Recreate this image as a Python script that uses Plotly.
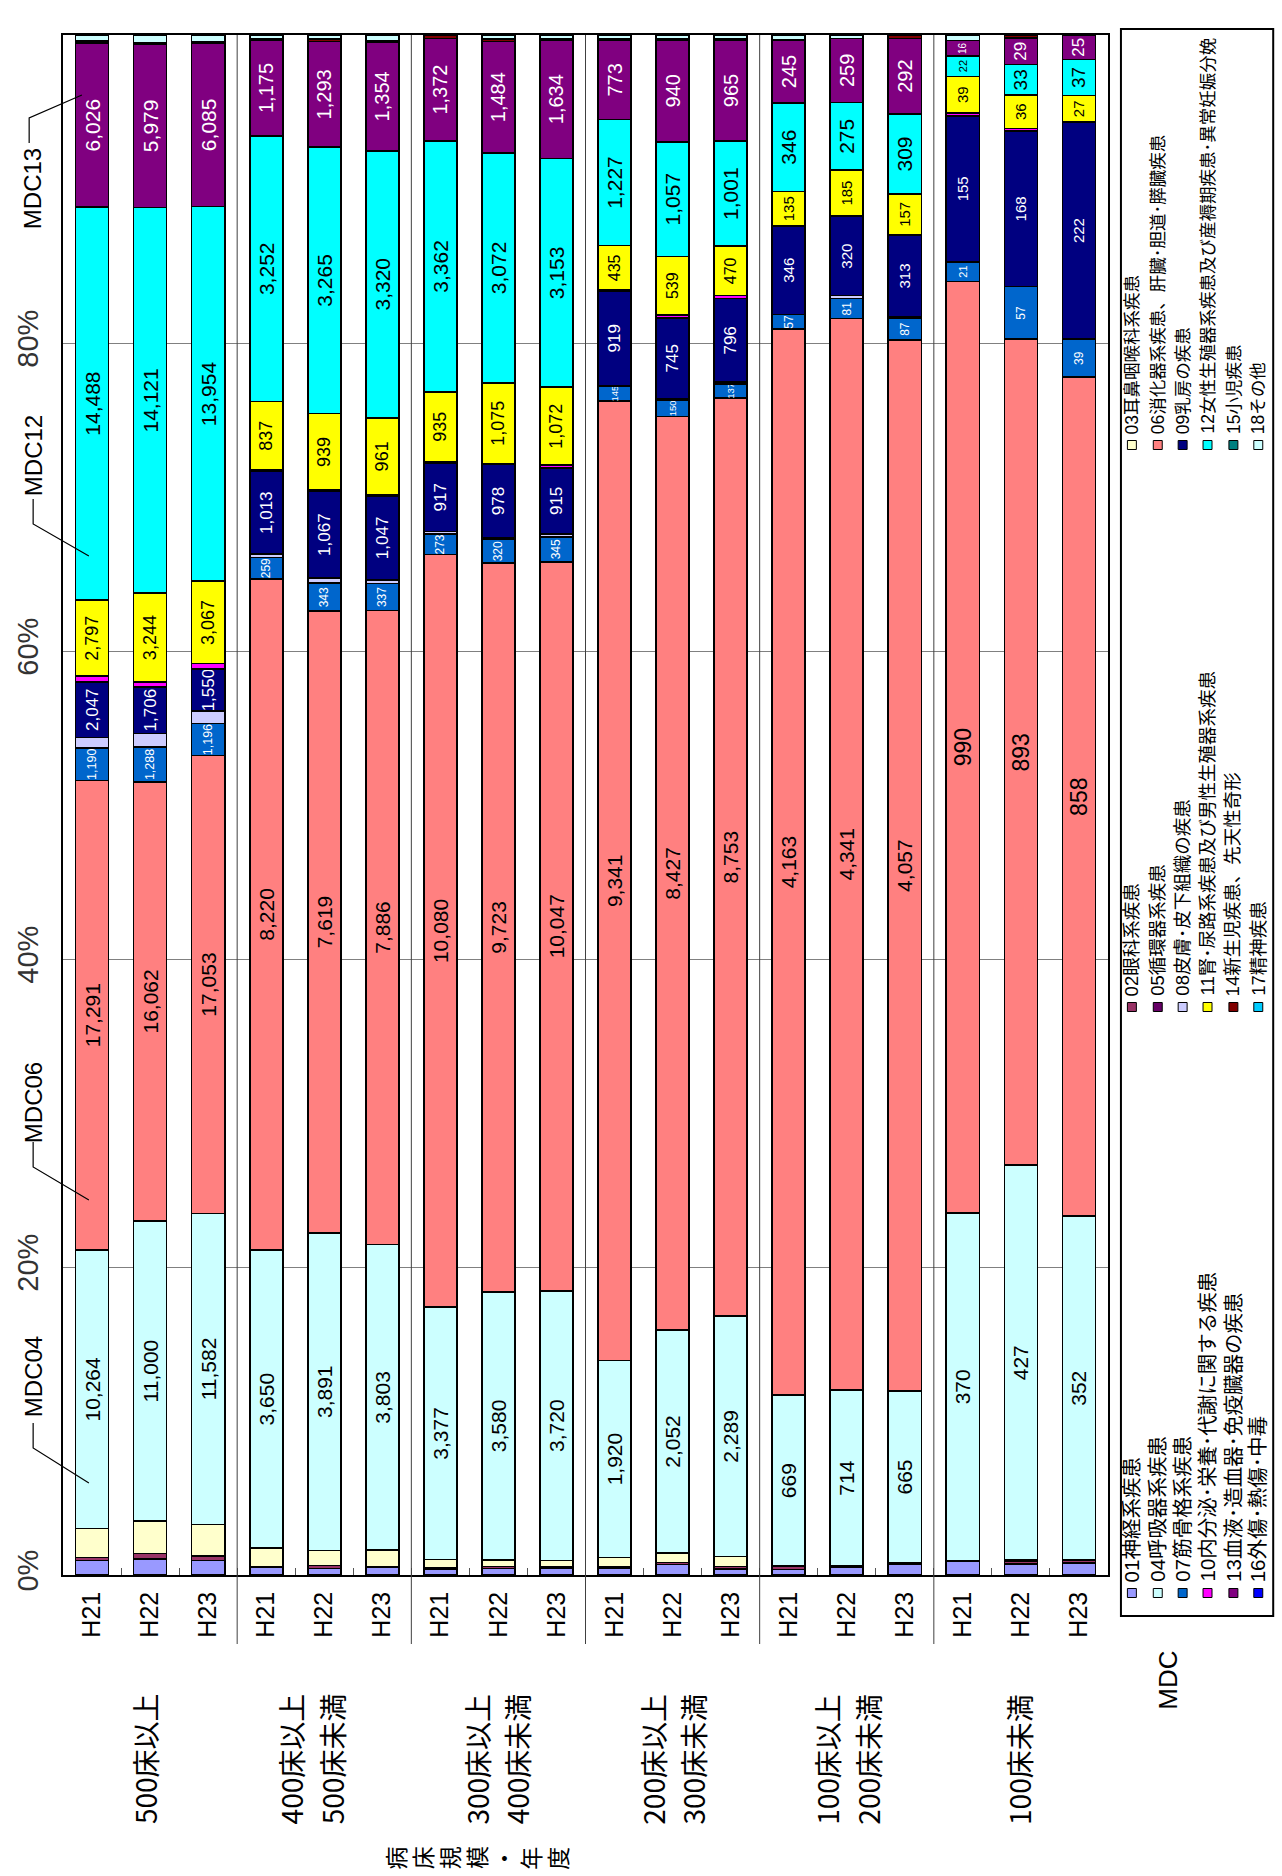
import plotly.graph_objects as go

# ---- data -----------------------------------------------------------------
years = ["H21", "H22", "H23"]
bed_groups = [
    ["500床以上"],
    ["400床以上", "500床未満"],
    ["300床以上", "400床未満"],
    ["200床以上", "300床未満"],
    ["100床以上", "200床未満"],
    ["100床未満"],
]

mdc_codes = ["01", "02", "03", "04", "05", "06", "07", "08", "09",
             "10", "11", "12", "13", "14", "15", "16", "17", "18"]
mdc_names = [
    "01神経系疾患", "02眼科系疾患", "03耳鼻咽喉科系疾患",
    "04呼吸器系疾患", "05循環器系疾患", "06消化器系疾患、肝臓･胆道･膵臓疾患",
    "07筋骨格系疾患", "08皮膚･皮下組織の疾患", "09乳房の疾患",
    "10内分泌･栄養･代謝に関する疾患", "11腎･尿路系疾患及び男性生殖器系疾患",
    "12女性生殖器系疾患及び産褥期疾患･異常妊娠分娩",
    "13血液･造血器･免疫臓器の疾患", "14新生児疾患、先天性奇形", "15小児疾患",
    "16外傷･熱傷･中毒", "17精神疾患", "18その他",
]
mdc_colors = [
    "#9999FF", "#993366", "#FFFFCC", "#CCFFFF", "#660066", "#FF8080",
    "#0066CC", "#CCCCFF", "#000080", "#FF00FF", "#FFFF00", "#00FFFF",
    "#800080", "#800000", "#008080", "#0000FF", "#00CCFF", "#CCFFFF",
]

# counts per MDC, one value per bar (6 bed-size groups x 3 years)
mdc01 = [538, 585, 545, 91, 78, 92, 76, 88, 92, 62, 98, 60, 22, 30, 41, 15, 12, 12]
mdc02 = [108, 197, 172, 11, 38, 15, 20, 27, 19, 13, 18, 22, 12, 6, 5, 0, 3, 3]
mdc03 = [1064, 1182, 1165, 225, 184, 200, 111, 84, 87, 94, 89, 95, 0, 0, 0, 0, 1, 0]
mdc04 = [10264, 11000, 11582, 3650, 3891, 3803, 3377, 3580, 3720,
         1920, 2052, 2289, 669, 714, 665, 370, 427, 352]
mdc05 = [0] * 18
mdc06 = [17291, 16062, 17053, 8220, 7619, 7886, 10080, 9723, 10047,
         9341, 8427, 8753, 4163, 4341, 4057, 990, 893, 858]
mdc07 = [1190, 1288, 1196, 259, 343, 337, 273, 320, 345, 145, 150, 137, 57, 81, 87, 21, 57, 39]
mdc08 = [390, 490, 470, 42, 61, 42, 35, 20, 36, 8, 14, 15, 0, 12, 5, 0, 0, 0]
mdc09 = [2047, 1706, 1550, 1013, 1067, 1047, 917, 978, 915, 919, 745, 796, 346, 320, 313, 155, 168, 222]
mdc10 = [210, 180, 212, 17, 10, 10, 18, 10, 36, 8, 28, 30, 0, 3, 3, 3, 3, 0]
mdc11 = [2797, 3244, 3067, 837, 939, 961, 935, 1075, 1072, 435, 539, 470, 135, 185, 157, 39, 36, 27]
mdc12 = [14488, 14121, 13954, 3252, 3265, 3320, 3362, 3072, 3153,
         1227, 1057, 1001, 346, 275, 309, 22, 33, 37]
mdc13 = [6026, 5979, 6085, 1175, 1293, 1354, 1372, 1484, 1634, 773, 940, 965, 245, 259, 292, 16, 29, 25]
mdc14 = [96, 56, 57, 19, 28, 15, 45, 35, 21, 8, 14, 12, 0, 0, 13, 0, 3, 0]
mdc15 = [0] * 18
mdc16 = [0] * 18
mdc17 = [0] * 18
mdc18 = [210, 280, 247, 42, 53, 71, 0, 53, 47, 42, 31, 35, 20, 14, 0, 6, 0, 0]

series = [mdc01, mdc02, mdc03, mdc04, mdc05, mdc06, mdc07, mdc08, mdc09,
          mdc10, mdc11, mdc12, mdc13, mdc14, mdc15, mdc16, mdc17, mdc18]

# ---- label styling for the series that carry value labels ----------------
label_color = {"04": "black", "06": "black", "07": "white", "09": "white",
               "11": "black", "12": "black", "13": "white"}
label_size = {
    "04": [21] * 18,
    "06": [21] * 15 + [23] * 3,
    "07": [12.5] * 3 + [12] * 6 + [9.5] * 3 + [12] * 3 + [11, 12, 12],
    "09": [17] * 12 + [15] * 6,
    "11": [18] * 9 + [16] * 3 + [15] * 6,
    "12": [21] * 15 + [11, 19, 19],
    "13": [21] * 3 + [20] * 12 + [10, 17, 17],
}

# ---- layout helpers ------------------------------------------------------
W, H = 1282, 1876
PL, PR, PT, PB = 58, 1108, 35, 1575          # plot area in pixels
NUM = "Liberation Sans Narrow, Liberation Sans, Noto Sans CJK JP"
JP = "Noto Sans CJK JP"


def fx(x):
    return (x - PL) / (PR - PL)


def fy(y):
    return (PB - y) / (PB - PT)


cats = [f"{''.join(g)} {y}" for g in bed_groups for y in years]
year_text = [y for _ in bed_groups for y in years]
cw = (PR - PL) / len(cats)

fig = go.Figure()
for code, name, color, vals in zip(mdc_codes, mdc_names, mdc_colors, series):
    kw = {}
    if code in label_color:
        kw = dict(
            text=[f"{v:,}" for v in vals],
            texttemplate="%{text}",
            textposition="inside",
            insidetextanchor="middle",
            textangle=-90,
            constraintext="none",
            insidetextfont=dict(family=NUM, size=label_size[code],
                                color=label_color[code]),
        )
    fig.add_trace(go.Bar(
        x=cats, y=vals, name=name,
        marker=dict(color=color, line=dict(color="black", width=1.7)),
        hoverinfo="skip", showlegend=False, **kw,
    ))

fig.update_layout(
    width=W, height=H, autosize=False,
    margin=dict(l=PL, r=W - PR, t=PT, b=H - PB, pad=0),
    barmode="stack", barnorm="percent", bargap=0.43,
    plot_bgcolor="white", paper_bgcolor="white",
    font=dict(family=NUM, color="black"),
)
fig.update_xaxes(
    type="category", categoryorder="array", categoryarray=cats,
    tickmode="array", tickvals=cats, ticktext=year_text,
    tickangle=-90, tickfont=dict(family=NUM, size=25, color="black"),
    ticklabelstandoff=5,
    tickson="boundaries", ticks="inside", ticklen=7, tickcolor="#555555",
    showgrid=False, showline=True, linecolor="black", linewidth=1.5, mirror=True,
)
fig.update_yaxes(
    range=[0, 100], tickmode="array", tickvals=[0, 20, 40, 60, 80, 100],
    ticktext=["0%", "20%", "40%", "60%", "80%", "100%"],
    tickangle=-90, tickfont=dict(family=NUM, size=29, color="#333333"),
    ticklabelstandoff=12,
    showgrid=True, gridcolor="#808080", gridwidth=1, zeroline=False,
    showline=True, linecolor="black", linewidth=1.5, mirror=True, ticks="",
)

shapes = []
annotations = []

# separators between bed-size groups, running down through the year labels
for k in range(1, len(bed_groups)):
    shapes.append(dict(type="line", xref="x", yref="paper",
                       x0=3 * k - 0.5, x1=3 * k - 0.5, y0=fy(1644), y1=1,
                       line=dict(color="#404040", width=1)))

# bed-size group labels (offsets of each text line from the group centre)
line_offsets = [[-5], [-33, 8], [-22, 19], [-20, 21], [-20, 21], [-2]]
for i, g in enumerate(bed_groups):
    cx = PL + (3 * i + 1.5) * cw
    for line_text, off in zip(g, line_offsets[i]):
        annotations.append(dict(
            x=fx(cx + off), y=fy(1759), xref="paper", yref="paper",
            text=line_text, textangle=-90, showarrow=False,
            xanchor="center", yanchor="middle",
            font=dict(family=JP, size=28, color="black"),
        ))

# axis title, one character per glyph
for j, ch in enumerate("病床規模・年度"):
    annotations.append(dict(
        x=fx(392 + j * 27), y=fy(1858), xref="paper", yref="paper",
        text=ch, textangle=-90, showarrow=False,
        xanchor="center", yanchor="middle",
        font=dict(family=JP, size=23, color="black"),
    ))

# MDC call-outs with leader lines into the first bar
callouts = [
    ("MDC04", 1377, [(28, 1423), (28, 1448), (84, 1483)]),
    ("MDC06", 1103, [(28, 1142), (28, 1167), (84, 1200)]),
    ("MDC12", 456, [(28, 499), (28, 524), (84, 556)]),
    ("MDC13", 189, [(24, 143), (24, 118), (77, 95)]),
]
for label, ty, pts in callouts:
    annotations.append(dict(
        x=fx(28), y=fy(ty), xref="paper", yref="paper",
        text=label, textangle=-90, showarrow=False,
        xanchor="center", yanchor="middle",
        font=dict(family=NUM, size=24, color="black"),
    ))
    path = "M " + " L ".join(f"{fx(x)},{fy(y)}" for x, y in pts)
    shapes.append(dict(type="path", xref="paper", yref="paper", path=path,
                       line=dict(color="black", width=1.2)))

# legend box
shapes.append(dict(type="rect", xref="paper", yref="paper",
                   x0=fx(1121), x1=fx(1274), y0=fy(1616), y1=fy(29),
                   line=dict(color="black", width=2), fillcolor="white",
                   layer="below"))
leg_cols = [1132, 1158, 1183, 1208, 1234, 1259]
leg_rows = [1593, 1007, 445]
leg_font = [20.5, 18.5, 17.5]
for k, (name, color) in enumerate(zip(mdc_names, mdc_colors)):
    row = k % 3
    cx, my = leg_cols[k // 3], leg_rows[row]
    shapes.append(dict(type="rect", xref="paper", yref="paper",
                       x0=fx(cx - 4.5), x1=fx(cx + 4.5),
                       y0=fy(my + 4.5), y1=fy(my - 4.5),
                       fillcolor=color, line=dict(color="black", width=1)))
    annotations.append(dict(
        x=fx(cx), y=fy(my - 9), xref="paper", yref="paper",
        text=name, textangle=-90, showarrow=False,
        xanchor="center", yanchor="bottom",
        font=dict(family=NUM, size=leg_font[row], color="black"),
    ))

annotations.append(dict(
    x=fx(1168), y=fy(1680), xref="paper", yref="paper",
    text="MDC", textangle=-90, showarrow=False,
    xanchor="center", yanchor="middle",
    font=dict(family=NUM, size=26, color="black"),
))

fig.update_layout(shapes=shapes, annotations=annotations)
fig.write_html("out.html")
